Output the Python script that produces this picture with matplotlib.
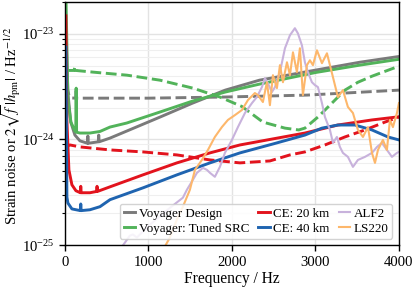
import matplotlib
matplotlib.use("Agg")
import matplotlib.pyplot as plt
from matplotlib.ticker import FixedLocator, NullFormatter

plt.rcParams['font.family'] = ['Liberation Serif', 'DejaVu Serif']
plt.rcParams['mathtext.fontset'] = 'stix'
plt.rcParams['font.size'] = 10

# ---------------- data (frequency in Hz, strain in 1/sqrt(Hz)) ----------------
voy_f = [10, 36, 70, 120, 180, 270, 275, 280, 400, 405, 410, 540, 740, 1140, 1530, 1920, 2330, 3000, 3530, 4000]
voy_h = [1.2e-23, 2.75e-24, 1.46e-24, 1.10e-24, 9.7e-25, 9.2e-25, 1.08e-24, 9.2e-25, 9.5e-25, 1.1e-24, 9.5e-25,
         1.03e-24, 1.2e-24, 1.63e-24, 2.21e-24, 2.93e-24, 3.64e-24, 4.53e-24, 5.38e-24, 6.1e-24]

voy_dash_f = [15, 50, 80, 130, 135, 140, 500, 1000, 1900, 2900, 4000]
voy_dash_h = [3.3e-24, 2.6e-24, 2.47e-24, 2.46e-24, 3.1e-24, 2.46e-24, 2.46e-24, 2.46e-24, 2.52e-24, 2.63e-24, 2.93e-24]

src_f = [10, 36, 72, 120, 130, 135, 140, 180, 300, 420, 540, 740, 1140, 1530, 1920, 2330, 3000, 3530, 4000]
src_h = [3e-23, 2.36e-24, 1.46e-24, 1.2e-24, 1.18e-24, 3.06e-24, 1.17e-24, 1.15e-24, 1.15e-24, 1.19e-24, 1.31e-24,
         1.43e-24, 1.82e-24, 2.31e-24, 2.81e-24, 3.34e-24, 4.3e-24, 5.05e-24, 5.74e-24]

src_dash_f = [12, 110, 120, 130, 335, 743, 1138, 1533, 1856, 2120, 2371, 2635, 2800, 2874, 3030, 3198, 3353, 3509, 3677, 4000]
src_dash_h = [4.5e-24, 4.5e-24, 4.9e-24, 4.5e-24, 4.34e-24, 4.06e-24, 3.64e-24, 3.06e-24, 2.52e-24, 2.05e-24, 1.46e-24,
              1.28e-24, 1.23e-24, 1.28e-24, 1.63e-24, 2.21e-24, 2.93e-24, 3.48e-24, 3.97e-24, 4.94e-24]

ce20_f = [12, 24, 48, 84, 132, 185, 190, 195, 300, 380, 385, 390, 540, 934, 1341, 1737, 2096, 2874, 3269, 3677, 4000]
ce20_h = [1.48e-23, 1.5e-24, 5.15e-25, 3.72e-25, 3.27e-25, 3.13e-25, 3.6e-25, 3.13e-25, 3.13e-25, 3.22e-25, 3.6e-25,
          3.22e-25, 3.56e-25, 4.62e-25, 6.0e-25, 7.46e-25, 8.87e-25, 1.15e-24, 1.37e-24, 1.53e-24, 1.64e-24]

ce20_dash_f = [12, 60, 180, 539, 934, 1341, 1737, 2096, 2455, 2695, 2874, 3114, 3353, 3593, 3832, 4000]
ce20_dash_h = [8.5e-25, 8.87e-25, 8.5e-25, 7.96e-25, 7.62e-25, 7.14e-25, 6.4e-25, 6.0e-25, 6.26e-25, 7.14e-25,
               7.62e-25, 8.87e-25, 1.056e-24, 1.23e-24, 1.46e-24, 1.63e-24]

ce40_f = [12, 24, 36, 84, 185, 190, 195, 300, 420, 540, 934, 1341, 1737, 2096, 2500, 2874, 3078, 3269, 3473, 3677, 3868, 4000]
ce40_h = [7.5e-24, 2.85e-25, 2.5e-25, 2.2e-25, 2.12e-25, 2.45e-25, 2.12e-25, 2.16e-25, 2.31e-25, 2.69e-25, 3.48e-25,
          4.62e-25, 6.0e-25, 7.46e-25, 9.1e-25, 1.1e-24, 1.28e-24, 1.37e-24, 1.37e-24, 1.23e-24, 1.056e-24, 9.9e-25]

alf2_f = [659, 719, 778, 814, 862, 1018, 1257, 1413, 1461, 1533, 1581, 1653, 1701, 1737, 1796, 1856, 1916, 2000,
          2072, 2156, 2240, 2299, 2359, 2395, 2431, 2479, 2515, 2575, 2635, 2695, 2754, 2790, 2838, 2874, 2910, 2958,
          2994, 3030, 3078, 3114, 3174, 3210, 3257, 3293, 3329, 3389, 3449, 3509, 3593, 3677, 3737, 3796, 3856, 3916,
          3976, 4000]
alf2_h = [9.1e-26, 1.056e-25, 1.23e-25, 1.26e-25, 1.18e-25, 1.56e-25, 2.25e-25, 2.81e-25, 3.34e-25, 4.15e-25, 4.83e-25,
          5.38e-25, 5.15e-25, 4.83e-25, 4.43e-25, 5.5e-25, 7.46e-25, 9.9e-25, 1.31e-24, 1.78e-24, 2.21e-24, 2.52e-24,
          3.13e-24, 3.8e-24, 3.4e-24, 2.81e-24, 3.13e-24, 4.34e-24, 7.3e-24, 9.7e-24, 1.13e-23, 1.01e-23, 7.8e-24,
          5.38e-24, 4.34e-24, 3.48e-24, 3.27e-24, 3.13e-24, 2.21e-24, 1.63e-24, 1.23e-24, 9.27e-25, 1.056e-24, 8.5e-25,
          7.46e-25, 6.84e-25, 5.5e-25, 6.4e-25, 6.84e-25, 7.46e-25, 8.5e-25, 9.27e-25, 7.96e-25, 6.84e-25, 7.46e-25,
          7.62e-25]

ls220_f = [1138, 1198, 1257, 1341, 1413, 1497, 1557, 1641, 1713, 1796, 1880, 1952, 2036, 2120, 2192, 2275, 2311, 2371,
           2419, 2455, 2491, 2539, 2575, 2611, 2659, 2695, 2731, 2778, 2814, 2850, 2898, 2934, 2970, 3018, 3078, 3138,
           3198, 3269, 3329, 3389, 3449, 3509, 3569, 3629, 3677, 3713, 3749, 3808, 3856, 3892, 3928, 3976, 4000]
ls220_h = [9.1e-26, 9.7e-26, 1.18e-25, 1.74e-25, 2.31e-25, 3.34e-25, 5.15e-25, 6.4e-25, 7.96e-25, 1.056e-24, 1.31e-24,
           1.53e-24, 1.70e-24, 1.90e-24, 2.36e-24, 2.75e-24, 2.63e-24, 2.26e-24, 3.48e-24, 2.11e-24, 4.06e-24, 3.06e-24,
           5.05e-24, 3.48e-24, 5.38e-24, 4.06e-24, 6.68e-24, 4.34e-24, 7.3e-24, 2.63e-24, 5.05e-24, 5.62e-24, 5.05e-24,
           6.98e-24, 5.27e-24, 6.54e-24, 4.24e-24, 2.52e-24, 2.93e-24, 2.03e-24, 1.78e-24, 1.23e-24, 1.056e-24, 1.31e-24,
           7.46e-25, 6.0e-25, 7.96e-25, 9.9e-25, 7.96e-25, 1.53e-24, 1.31e-24, 1.78e-24, 2.21e-24]

x_ticks = [0, 1000, 2000, 3000, 4000]
y_ticks = [1e-25, 1e-24, 1e-23]
y_minor = [m * d for d in (1e-25, 1e-24, 1e-23) for m in range(2, 10) if m * d <= 2e-23]

# ---------------- colours ----------------
c_gray = '#7a7a7a'
c_green = '#52b35a'
c_red = '#e2131d'
c_blue = '#1f64b0'
c_purple = '#c8b2dc'
c_orange = '#fdb76b'

fig = plt.figure(figsize=(4.16, 2.88), dpi=100)
ax = fig.add_axes([0.156, 0.149, 0.803, 0.844])

lw = 2.1
ax.plot(voy_f, voy_h, color=c_gray, lw=lw, label='Voyager Design')
ax.plot(voy_dash_f, voy_dash_h, color=c_gray, lw=lw, ls='--')
ax.plot(src_f, src_h, color=c_green, lw=lw, label='Voyager: Tuned SRC')
ax.plot(src_dash_f, src_dash_h, color=c_green, lw=lw, ls='--')
ax.plot(ce20_f, ce20_h, color=c_red, lw=lw, label='CE: 20 km')
ax.plot(ce20_dash_f, ce20_dash_h, color=c_red, lw=lw, ls='--')
ax.plot(ce40_f, ce40_h, color=c_blue, lw=lw, label='CE: 40 km')
ax.plot(alf2_f, alf2_h, color=c_purple, lw=1.5, label='ALF2')
ax.plot(ls220_f, ls220_h, color=c_orange, lw=1.5, label='LS220')

ax.set_yscale('log')
ax.set_xlim(0, 4000)
ax.set_ylim(1e-25, 2e-23)
ax.set_xticks(x_ticks)
ax.yaxis.set_major_locator(FixedLocator(y_ticks))
ax.yaxis.set_minor_locator(FixedLocator(y_minor))
ax.yaxis.set_minor_formatter(NullFormatter())

ax.grid(True, which='major', color='#e3e3e3', lw=1.0)
ax.grid(True, which='minor', axis='y', color='#efefef', lw=0.8)
ax.set_axisbelow(True)

for s in ax.spines.values():
    s.set_color('black')
    s.set_linewidth(1.0)
ax.tick_params(which='major', direction='out', length=4, width=1, colors='black', labelsize=10.6)
ax.tick_params(which='minor', direction='out', length=2.2, width=0.8, colors='black')

ax.set_xlabel('Frequency / Hz', fontsize=11.2, labelpad=2)
ax.set_ylabel(r'Strain noise or $2\sqrt{f}\,|h_{\mathrm{pm}}|$ / Hz$^{-1/2}$', fontsize=10.6)
ax.yaxis.set_label_coords(-0.124, 0.49)

leg = ax.legend(ncol=3, loc='lower right', fontsize=9.4, handlelength=0.9, handletextpad=0.25,
                columnspacing=0.7, labelspacing=0.2, borderpad=0.3, borderaxespad=0.5,
                fancybox=True, framealpha=0.85)
leg.get_frame().set_edgecolor('#cccccc')

fig.savefig('out.png', dpi=100)
